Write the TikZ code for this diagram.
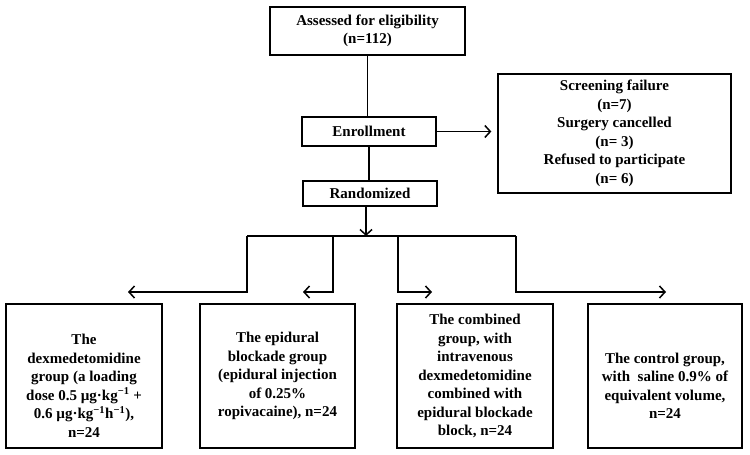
\documentclass[tikz,border=0pt]{standalone}
\usepackage{fontspec}
\setmainfont{Liberation Serif}
\usetikzlibrary{arrows.meta}
\newcommand{\supm}[1]{\textsuperscript{−#1}}
\begin{document}
\begin{tikzpicture}[x=1pt,y=-1pt,
  box/.style={draw,line width=1.3pt,align=center,inner sep=0pt,
    font=\fontsize{15}{18.5}\selectfont\bfseries},
  conn/.style={line width=1.7pt},
  arr/.style={conn,-{Straight Barb[length=5.5pt,width=12pt,line width=1.5pt]}}]
\useasboundingbox (0,0) rectangle (750,455);
\node[box,minimum width=195pt,minimum height=48pt] (assess) at (367.5,31) {Assessed for eligibility\\(n=112)};
\node[box,minimum width=134pt,minimum height=29pt] (enrol) at (369,131.5) {Enrollment};
\node[box,minimum width=134pt,minimum height=25pt] (rand) at (370,193.5) {Randomized};
\node[box,minimum width=233pt,minimum height=119pt] (excl) at (614.5,133.5) {Screening failure\\(n=7)\\Surgery cancelled\\(n= 3)\\Refused to participate\\(n= 6)};
\node[box,minimum width=156pt,minimum height=144pt] (g1) at (84,376) {\mbox{}\\[11pt]The\\dexmedetomidine\\group (a loading\\dose 0.5 µg·kg\supm{1} +\\0.6 µg·kg\supm{1}h\supm{1}),\\n=24};
\node[box,minimum width=155pt,minimum height=144pt] (g2) at (277.5,376) {The epidural\\blockade group\\(epidural injection\\of 0.25\%\\ropivacaine), n=24};
\node[box,minimum width=156pt,minimum height=144pt] (g3) at (475,376) {The combined\\group, with\\intravenous\\dexmedetomidine\\combined with\\epidural blockade\\block, n=24};
\node[box,minimum width=154pt,minimum height=144pt] (g4) at (665,376) {\mbox{}\\[11pt]The control group,\\with \ saline 0.9\% of\\equivalent volume,\\n=24};
\coordinate (split) at (366,236);
\coordinate (b1) at (247,236);
\coordinate (b2) at (333,236);
\coordinate (b3) at (398,236);
\coordinate (b4) at (516,236);
\coordinate (e1) at (128,292);
\coordinate (e2) at (303,292);
\coordinate (e3) at (432,292);
\coordinate (e4) at (666,292);
\draw[conn] (assess.south) -- (assess.south |- enrol.north);
\draw[arr] (enrol.east) -- ([xshift=-6pt]excl.west |- enrol.east);
\draw[conn] (rand.north -| enrol.south) -- (enrol.south);
\draw[arr] (rand.south -| split) -- (split);
\draw[conn] (b1) -- (b4);
\draw[arr] (b1) |- (e1);
\draw[arr] (b2) |- (e2);
\draw[arr] (b3) |- (e3);
\draw[arr] (b4) |- (e4);
\end{tikzpicture}
\end{document}
